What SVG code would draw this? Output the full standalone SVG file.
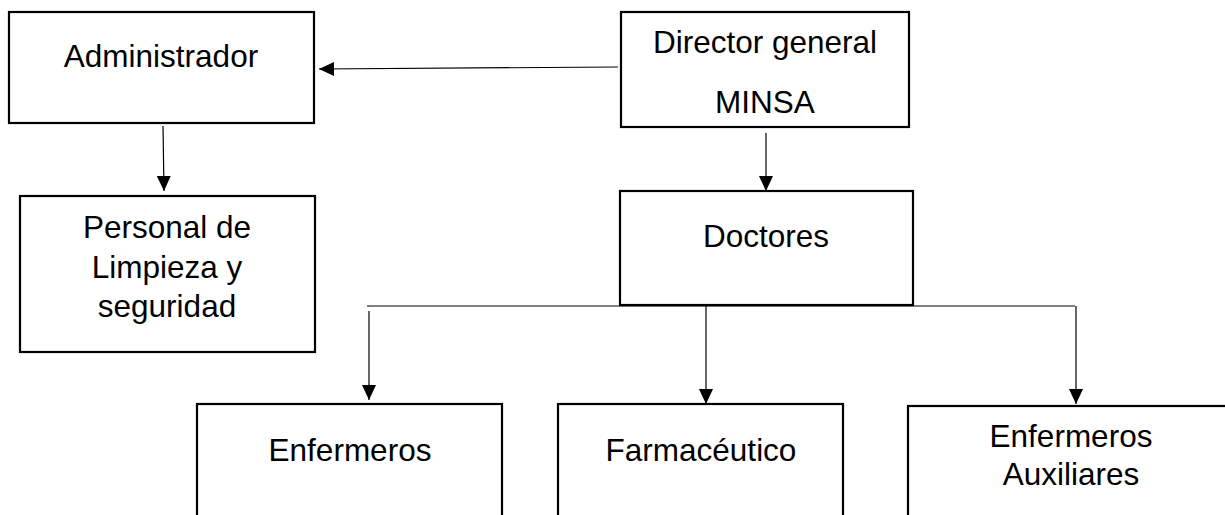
<svg xmlns="http://www.w3.org/2000/svg" width="1225" height="515" viewBox="0 0 1225 515">
<style>
  .box { fill: #ffffff; stroke: #000000; stroke-width: 2.2; }
  .lbl { font-family: "Liberation Sans", Arial, sans-serif; font-size: 31.5px; fill: #000000; text-anchor: middle; }
  .conn { stroke: #000000; stroke-width: 1.2; fill: none; }
  .arr { marker-end: url(#ah); }
</style>
<defs>
  <marker id="ah" markerUnits="userSpaceOnUse" markerWidth="16" markerHeight="15" refX="15" refY="7" orient="auto">
    <path d="M0,0 L15,7 L0,14 Z" fill="#000000"/>
  </marker>
</defs>
<rect width="1225" height="515" fill="#ffffff"/>
<g id="connectors">
  <line class="conn arr" x1="618" y1="67" x2="319" y2="69"/>
  <line class="conn arr" x1="163" y1="126" x2="164" y2="191"/>
  <line class="conn arr" x1="766" y1="133" x2="766" y2="191"/>
  <line class="conn" x1="367" y1="306" x2="1075" y2="306"/>
  <line class="conn arr" x1="369" y1="311" x2="369" y2="400"/>
  <line class="conn arr" x1="706" y1="306" x2="706" y2="404"/>
  <line class="conn arr" x1="1076" y1="306" x2="1076" y2="404"/>
</g>
<g id="administrador">
  <rect class="box" x="9" y="12" width="305" height="111"/>
  <text class="lbl" x="161" y="67">Administrador</text>
</g>
<g id="director">
  <rect class="box" x="621" y="12" width="288" height="115"/>
  <text class="lbl" x="765" y="53">Director general</text>
  <text class="lbl" x="765" y="113">MINSA</text>
</g>
<g id="personal">
  <rect class="box" x="20" y="196" width="295" height="156"/>
  <text class="lbl" x="167" y="238">Personal de</text>
  <text class="lbl" x="167" y="278">Limpieza y</text>
  <text class="lbl" x="167" y="317">seguridad</text>
</g>
<g id="doctores">
  <rect class="box" x="620" y="191" width="293" height="114"/>
  <text class="lbl" x="766" y="247">Doctores</text>
</g>
<g id="enfermeros">
  <rect class="box" x="197" y="404" width="305" height="130"/>
  <text class="lbl" x="350" y="461">Enfermeros</text>
</g>
<g id="farmaceutico">
  <rect class="box" x="558" y="404" width="285" height="130"/>
  <text class="lbl" x="701" y="461">Farmacéutico</text>
</g>
<g id="auxiliares">
  <rect class="box" x="908" y="406" width="330" height="130"/>
  <text class="lbl" x="1071" y="447">Enfermeros</text>
  <text class="lbl" x="1071" y="485">Auxiliares</text>
</g>
</svg>
